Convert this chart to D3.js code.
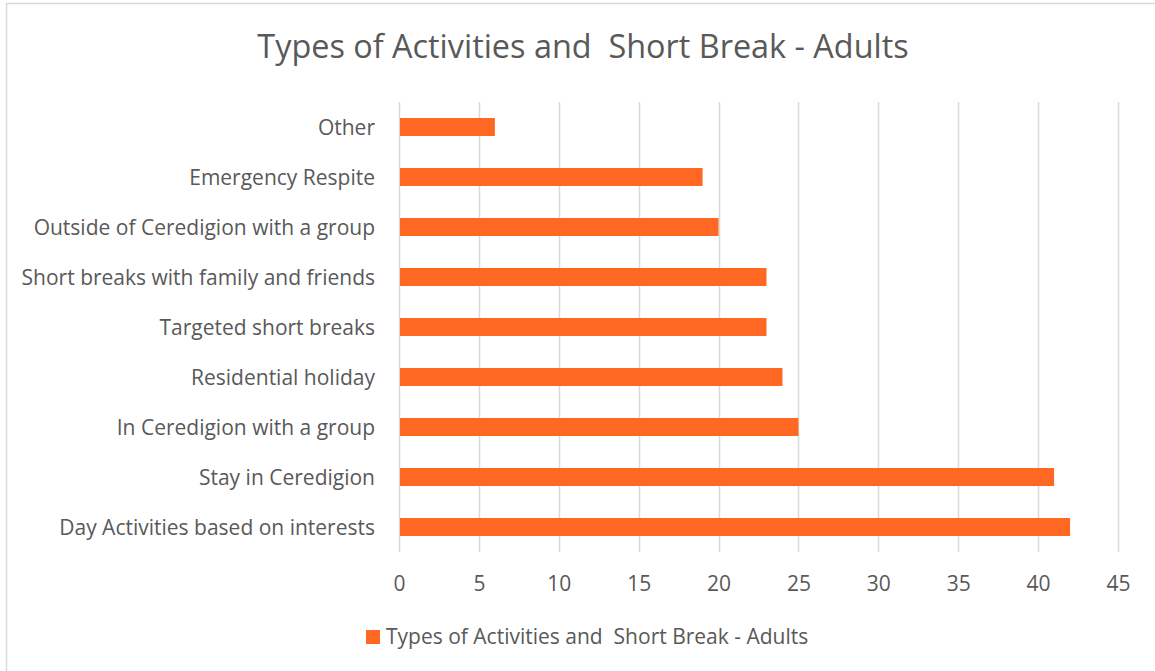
<!DOCTYPE html>
<html>
<head>
<meta charset="utf-8">
<script src="https://cdn.jsdelivr.net/npm/d3@7"></script>
<style>
  body { margin: 0; background: #fff; }
  svg { display: block; font-family: 'Open Sans', sans-serif; }
</style>
</head>
<body>
<div id="chart"></div>
<script>
const titleText = 'Types of Activities and\u00a0 Short Break - Adults';
// categories listed bottom to top, as in the source sheet
const categories = [
  'Day Activities based on interests',
  'Stay in Ceredigion',
  'In Ceredigion with a group',
  'Residential holiday',
  'Targeted short breaks',
  'Short breaks with family and friends',
  'Outside of Ceredigion with a group',
  'Emergency Respite',
  'Other'
];
const counts = [42, 41, 25, 24, 23, 23, 20, 19, 6];
const tickValues = [0, 5, 10, 15, 20, 25, 30, 35, 40, 45];

const width = 1155, height = 671;
const margin = {top: 102, right: 37, bottom: 119, left: 399};
const textColor = '#595959', gridColor = '#d9d9d9', barColor = '#ff6822';

const data = categories.map((c, i) => ({cat: c, value: counts[i]}));

const svg = d3.select('#chart').append('svg').attr('width', width).attr('height', height);

svg.append('rect')
  .attr('x', 6.5).attr('y', 3.5)
  .attr('width', width + 20).attr('height', height + 20)
  .attr('fill', '#fff').attr('stroke', gridColor).attr('stroke-width', 1.5);

const x = d3.scaleLinear().domain([0, 45]).range([margin.left, width - margin.right]);
const y = d3.scaleBand().domain(categories.slice().reverse())
  .range([margin.top, height - margin.bottom]).paddingInner(0.64).paddingOuter(0.32);

// gridlines
svg.append('g').selectAll('line').data(tickValues).join('line')
  .attr('x1', d => Math.round(x(d)) + 0.5).attr('x2', d => Math.round(x(d)) + 0.5)
  .attr('y1', margin.top).attr('y2', height - margin.bottom)
  .attr('stroke', gridColor).attr('stroke-width', 1.5);

// bars
svg.append('g').selectAll('rect').data(data).join('rect')
  .attr('x', x(0) + 1)
  .attr('y', d => y(d.cat))
  .attr('width', d => x(d.value) - x(0) - 1)
  .attr('height', y.bandwidth())
  .attr('fill', barColor);

// x axis labels
const xAxis = d3.axisBottom(x).tickValues(tickValues).tickSize(0).tickPadding(0);
const gx = svg.append('g').attr('transform', `translate(0,${height - margin.bottom})`).call(xAxis);
gx.select('.domain').remove();
gx.selectAll('text').attr('dy', null).attr('y', 39)
  .attr('fill', textColor).style('font-size', '21px').style('font-family', "'Open Sans', sans-serif");

// y axis labels
const yAxis = d3.axisLeft(y).tickSize(0).tickPadding(24);
const gy = svg.append('g').attr('transform', `translate(${margin.left},0)`).call(yAxis);
gy.select('.domain').remove();
gy.selectAll('text').attr('dy', '0.36em')
  .attr('fill', textColor).style('font-size', '21px').style('font-family', "'Open Sans', sans-serif");

// title
svg.append('text')
  .attr('x', 583).attr('y', 58)
  .attr('text-anchor', 'middle')
  .attr('fill', textColor)
  .style('font-size', '32.4px')
  .text(titleText);

// legend
const lg = svg.append('g');
lg.append('rect').attr('x', 366).attr('y', 630).attr('width', 14).attr('height', 14).attr('fill', barColor);
lg.append('text').attr('x', 386).attr('y', 643.5)
  .attr('fill', textColor).style('font-size', '21px')
  .text(titleText);
</script>
</body>
</html>
